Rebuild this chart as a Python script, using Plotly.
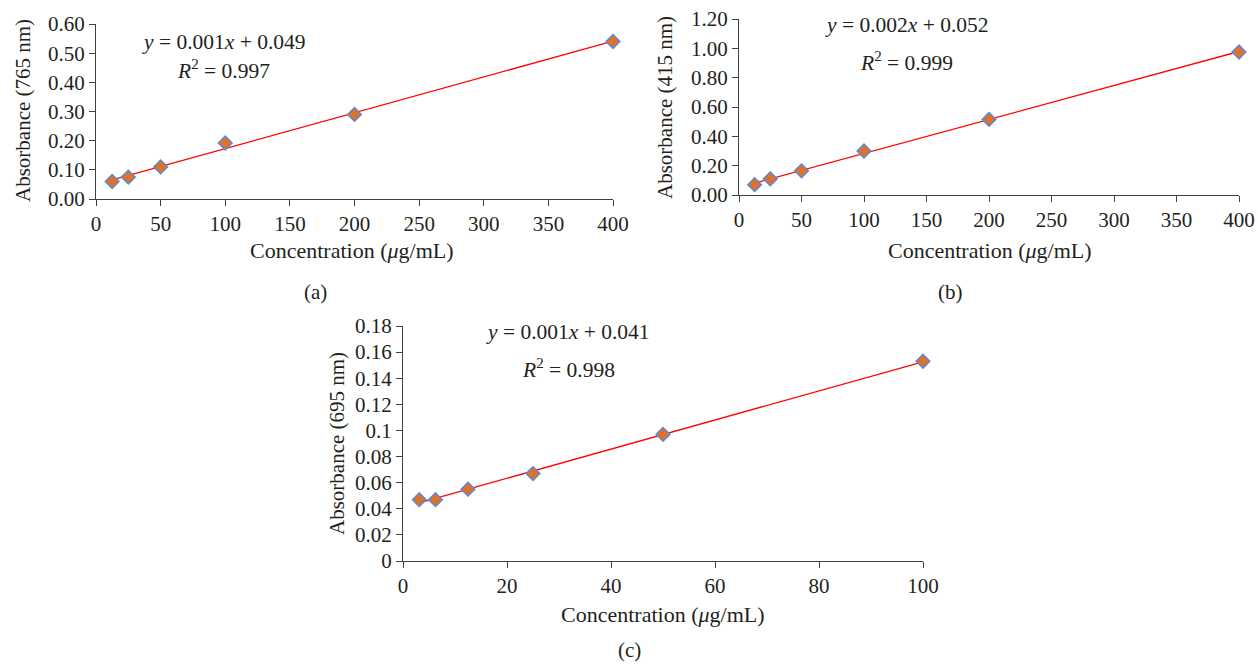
import numpy as np
import plotly.graph_objects as go

W, H = 1258, 664

# ---- data ----
conc_a = [12.5, 25, 50, 100, 200, 400]
abs_a = [0.060, 0.075, 0.110, 0.192, 0.290, 0.540]
conc_b = [12.5, 25, 50, 100, 200, 400]
abs_b = [0.070, 0.110, 0.165, 0.300, 0.515, 0.975]
conc_c = [3.125, 6.25, 12.5, 25, 50, 100]
abs_c = [0.047, 0.047, 0.055, 0.067, 0.097, 0.153]

eq_a = ["<i>y</i> = 0.001<i>x</i> + 0.049", "<i>R</i><sup>2</sup> = 0.997"]
eq_b = ["<i>y</i> = 0.002<i>x</i> + 0.052", "<i>R</i><sup>2</sup> = 0.999"]
eq_c = ["<i>y</i> = 0.001<i>x</i> + 0.041", "<i>R</i><sup>2</sup> = 0.998"]

ytick_a = [0.0, 0.1, 0.2, 0.3, 0.4, 0.5, 0.6]
ytick_b = [0.0, 0.2, 0.4, 0.6, 0.8, 1.0, 1.2]
ytick_c = [0, 0.02, 0.04, 0.06, 0.08, 0.1, 0.12, 0.14, 0.16, 0.18]
ytext_c = ["0", "0.02", "0.04", "0.06", "0.08", "0.1", "0.12", "0.14", "0.16", "0.18"]

FONT = "Liberation Serif"
TXT = "#231F20"
AX = "#404040"

def px(x):
    return x / W

def py(y):
    return 1 - y / H

fig = go.Figure()

panels = [
    dict(x=conc_a, y=abs_a, xa="x", ya="y", dom_x=(96, 613), dom_y=(24, 199),
         xr=[0, 400], xd=50, yvals=ytick_a, ytext=[f"{v:.2f}" for v in ytick_a], yr=[0, 0.6],
         eq=eq_a, eqpos=(224, 42, 223, 70), ytitle="Absorbance (765 nm)", ytp=(23, 111),
         xtp=(352, 250), lab="(a)", labp=(316, 292)),
    dict(x=conc_b, y=abs_b, xa="x2", ya="y2", dom_x=(739, 1239), dom_y=(19, 195),
         xr=[0, 400], xd=50, yvals=ytick_b, ytext=[f"{v:.2f}" for v in ytick_b], yr=[0, 1.2],
         eq=eq_b, eqpos=(907, 25, 906, 61), ytitle="Absorbance (415 nm)", ytp=(665, 107),
         xtp=(990, 250), lab="(b)", labp=(950, 292)),
    dict(x=conc_c, y=abs_c, xa="x3", ya="y3", dom_x=(403, 923), dom_y=(326, 561),
         xr=[0, 100], xd=20, yvals=ytick_c, ytext=ytext_c, yr=[0, 0.18],
         eq=eq_c, eqpos=(568, 332, 568, 368), ytitle="Absorbance (695 nm)", ytp=(337, 444),
         xtp=(663, 614), lab="(c)", labp=(630, 650)),
]

annotations = []
for i, p in enumerate(panels):
    xs = np.array(p["x"], dtype=float)
    ys = np.array(p["y"], dtype=float)
    k, b = np.polyfit(xs, ys, 1)
    xl = np.array([xs.min(), xs.max()])
    fig.add_trace(go.Scatter(x=xl, y=k * xl + b, mode="lines",
                             line=dict(color="#FF0000", width=1.3), cliponaxis=False,
                             xaxis=p["xa"], yaxis=p["ya"], showlegend=False))
    fig.add_trace(go.Scatter(x=xs, y=ys, mode="markers", cliponaxis=False,
                             marker=dict(symbol="diamond", size=10.5, color="#E0702A",
                                         line=dict(color="#5B8BD0", width=1.5)),
                             xaxis=p["xa"], yaxis=p["ya"], showlegend=False))
    sfx = "" if i == 0 else str(i + 1)
    axcommon = dict(showline=True, linecolor=AX, linewidth=1.2, ticks="outside",
                    ticklen=6, tickcolor=AX, tickwidth=1.2, showgrid=False, zeroline=False,
                    automargin=False,
                    tickfont=dict(family=FONT, size=21, color=TXT))
    fig.layout["xaxis" + sfx] = dict(domain=[px(p["dom_x"][0]), px(p["dom_x"][1])],
                                     anchor="y" + sfx, range=p["xr"], dtick=p["xd"],
                                     tick0=0, **axcommon)
    fig.layout["yaxis" + sfx] = dict(domain=[py(p["dom_y"][1]), py(p["dom_y"][0])],
                                     anchor="x" + sfx, range=p["yr"], tickvals=p["yvals"],
                                     ticktext=p["ytext"], **axcommon)
    e = p["eqpos"]
    annotations.append(dict(text=p["eq"][0], x=px(e[0]), y=py(e[1]), font_size=21.5))
    annotations.append(dict(text=p["eq"][1], x=px(e[2]), y=py(e[3]), font_size=21.5))
    annotations.append(dict(text="Concentration (<i>μ</i>g/mL)", x=px(p["xtp"][0]),
                            y=py(p["xtp"][1]), font_size=22))
    annotations.append(dict(text=p["ytitle"], x=px(p["ytp"][0]), y=py(p["ytp"][1]),
                            textangle=-90, font_size=21))
    annotations.append(dict(text=p["lab"], x=px(p["labp"][0]), y=py(p["labp"][1]),
                            font_size=21))

for a in annotations:
    fs = a.pop("font_size")
    a.update(xref="paper", yref="paper", showarrow=False, xanchor="center", yanchor="middle",
             font=dict(family=FONT, size=fs, color=TXT))

fig.update_layout(width=W, height=H, margin=dict(l=0, r=0, t=0, b=0),
                  paper_bgcolor="white", plot_bgcolor="white",
                  annotations=annotations, showlegend=False)

fig.write_html("out.html", config={"displayModeBar": False},
               post_script="document.body.style.margin='0';document.body.style.overflow='hidden';")
